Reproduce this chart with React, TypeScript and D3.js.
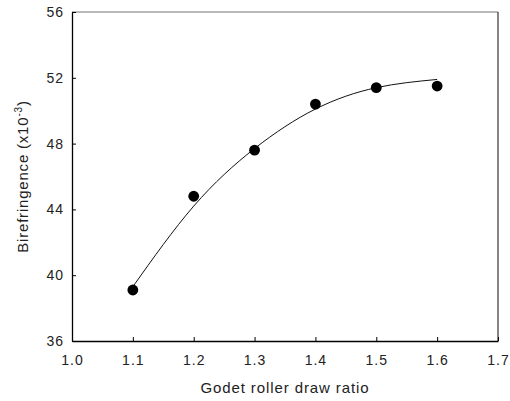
import React, { useEffect, useRef } from 'react';
import * as d3 from 'd3';

// measured points
const drawRatio = [1.1, 1.2, 1.3, 1.4, 1.5, 1.6];
const birefringence = [39.1, 44.8, 47.6, 50.4, 51.4, 51.5];

// fitted curve
const fitX = [1.1, 1.2, 1.3, 1.4, 1.5, 1.6];
const fitY = [39.3, 44.2, 47.7, 50.1, 51.4, 51.9];

const xTicks = [1.0, 1.1, 1.2, 1.3, 1.4, 1.5, 1.6, 1.7];
const yTicks = [36, 40, 44, 48, 52, 56];

const App = () => {
  const ref = useRef<SVGSVGElement>(null);
  const width = 510;
  const height = 401;
  const margin = { top: 12, right: 12, bottom: 60, left: 72 };

  useEffect(() => {
    const svg = d3.select(ref.current);
    svg.selectAll('*').remove();

    const innerW = width - margin.left - margin.right;
    const innerH = height - margin.top - margin.bottom;

    const x = d3.scaleLinear().domain([1.0, 1.7]).range([0, innerW]);
    const y = d3.scaleLinear().domain([36, 56]).range([innerH, 0]);

    const g = svg.append('g')
      .attr('transform', `translate(${margin.left},${margin.top})`);

    // top / right frame
    g.append('line')
      .attr('x1', 0).attr('x2', innerW).attr('y1', 0).attr('y2', 0)
      .attr('stroke', '#777').attr('stroke-width', 1.2);
    g.append('line')
      .attr('x1', innerW).attr('x2', innerW).attr('y1', 0).attr('y2', innerH)
      .attr('stroke', '#333').attr('stroke-width', 1.2);

    const fontFamily = '"Liberation Sans", Arial, sans-serif';

    const xAxis = g.append('g')
      .attr('transform', `translate(0,${innerH})`)
      .call(d3.axisBottom(x).tickValues(xTicks).tickFormat(d3.format('.1f'))
        .tickSizeInner(-4).tickSizeOuter(0).tickPadding(14));
    const yAxis = g.append('g')
      .call(d3.axisLeft(y).tickValues(yTicks).tickFormat(d3.format('d'))
        .tickSizeInner(-4).tickSizeOuter(0).tickPadding(8));

    [xAxis, yAxis].forEach((ax) => {
      ax.select('.domain').attr('stroke', '#000').attr('stroke-width', 1.3);
      ax.selectAll('.tick line').attr('stroke', '#000');
      ax.selectAll('.tick text')
        .attr('fill', '#222')
        .style('font-family', fontFamily)
        .style('font-size', '14px')
        .style('letter-spacing', '1px');
    });

    const line = d3.line<number>()
      .x((d, i) => x(fitX[i]))
      .y((d) => y(d))
      .curve(d3.curveNatural);

    g.append('path')
      .datum(fitY)
      .attr('d', line)
      .attr('fill', 'none')
      .attr('stroke', '#111')
      .attr('stroke-width', 1);

    g.selectAll('.dot')
      .data(birefringence)
      .enter()
      .append('circle')
      .attr('class', 'dot')
      .attr('cx', (d, i) => x(drawRatio[i]))
      .attr('cy', (d) => y(d))
      .attr('r', 5.4)
      .attr('fill', '#000');

    svg.append('text')
      .attr('x', margin.left + innerW / 2)
      .attr('y', 393)
      .attr('text-anchor', 'middle')
      .attr('fill', '#222')
      .style('font-family', fontFamily)
      .style('font-size', '15px')
      .style('letter-spacing', '0.9px')
      .text('Godet roller draw ratio');

    const yl = svg.append('text')
      .attr('transform', `translate(28,${margin.top + innerH / 2}) rotate(-90)`)
      .attr('text-anchor', 'middle')
      .attr('fill', '#222')
      .style('font-family', fontFamily)
      .style('font-size', '15px')
      .style('letter-spacing', '0.8px');
    yl.append('tspan').text('Birefringence (x10');
    yl.append('tspan').attr('dy', -6).style('font-size', '10px').text('-3');
    yl.append('tspan').attr('dy', 6).text(')');
  }, []);

  return (
    <svg
      ref={ref}
      width={width}
      height={height}
      style={{ position: 'absolute', left: 0, top: 0, background: '#fff' }}
    />
  );
};

export default App;
